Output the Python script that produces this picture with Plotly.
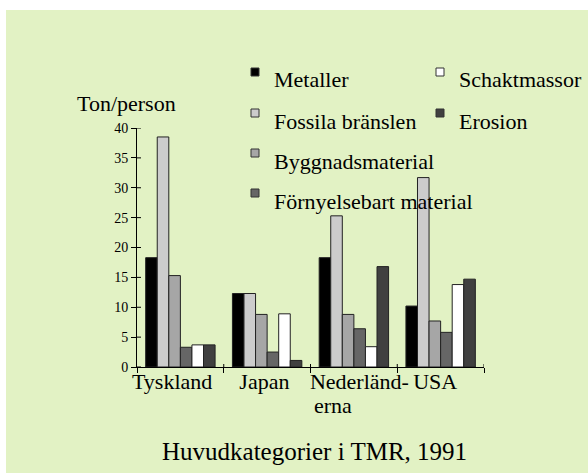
import plotly.graph_objects as go

NB = "\u00a0"
categories = ["Tyskland", "Japan", "Nederländerna", "USA"]
tick_labels = ["Tyskland" + NB * 3, "Japan" + NB, NB * 2 + "Nederländ-", "USA" + NB * 2]
tick_label_wrap = "erna"
series_names = ["Metaller", "Fossila bränslen", "Byggnadsmaterial",
                "Förnyelsebart material", "Schaktmassor", "Erosion"]
metaller = [18.3, 12.3, 18.3, 10.2]
fossila = [38.5, 12.3, 25.3, 31.7]
bygg = [15.3, 8.8, 8.8, 7.7]
fornyelsebart = [3.3, 2.5, 6.4, 5.8]
schakt = [3.7, 8.9, 3.4, 13.8]
erosion = [3.7, 1.1, 16.8, 14.7]
series_values = [metaller, fossila, bygg, fornyelsebart, schakt, erosion]
colors = ["#000000", "#cccccc", "#a6a6a6", "#666666", "#ffffff", "#404040"]
y_ticks = [0, 5, 10, 15, 20, 25, 30, 35, 40]

W, H = 588, 473
PX0, PX1, PY0, PY1 = 137, 484, 128, 367  # plot area in pixels
pw, ph = PX1 - PX0, PY1 - PY0
def px(x): return (x - PX0) / pw
def py(y): return (PY1 - y) / ph

FONT = "Liberation Serif, Times New Roman, serif"
fig = go.Figure()
for name, vals, col in zip(series_names, series_values, colors):
    fig.add_trace(go.Bar(x=categories, y=vals, name=name, marker_color=col,
                         marker_line=dict(color="#222222", width=1), showlegend=False))

shapes = [dict(type="rect", xref="paper", yref="paper", x0=px(6), x1=px(W + 5),
               y0=py(H + 5), y1=py(10), fillcolor="#e2f2c4", line_width=0, layer="below")]
# inner halves of the crossing ticks
for v in y_ticks:
    shapes.append(dict(type="line", xref="paper", yref="y", x0=0, x1=4 / pw, y0=v, y1=v,
                       line=dict(color="#000000", width=1)))
for i in range(len(categories)):
    shapes.append(dict(type="line", xref="x", yref="paper", x0=i + 0.5, x1=i + 0.5,
                       y0=0, y1=3 / ph, line=dict(color="#000000", width=1)))

annotations = [
    dict(text="Ton/person", xref="paper", yref="paper", x=px(126), y=py(103),
         xanchor="center", yanchor="middle",
         showarrow=False, font=dict(size=22, family=FONT, color="#000")),
    dict(text="Huvudkategorier i TMR, 1991", xref="paper", yref="paper", x=px(314), y=py(451),
         xanchor="center", yanchor="middle",
         showarrow=False, font=dict(size=25, family=FONT, color="#000")),
    dict(text=tick_label_wrap, xref="paper", yref="paper", x=px(312), y=py(405),
         xanchor="left", yanchor="middle",
         showarrow=False, font=dict(size=22, family=FONT, color="#000")),
]
# legend, two columns
legend_pos = [(251, 272, 80), (251, 272, 121), (251, 272, 161), (251, 272, 201),
              (436, 457, 80), (436, 457, 121)]
for name, col, (mx, tx, ty) in zip(series_names, colors, legend_pos):
    shapes.append(dict(type="rect", xref="paper", yref="paper", x0=px(mx), x1=px(mx + 8),
                       y0=py(ty - 4), y1=py(ty - 12), fillcolor=col,
                       line=dict(color="#333333", width=1)))
    annotations.append(dict(text=name, xref="paper", yref="paper", x=px(tx), y=py(ty),
                            xanchor="left", yanchor="middle", showarrow=False,
                            font=dict(size=22, family=FONT, color="#000")))

fig.update_layout(
    width=W, height=H, margin=dict(l=PX0, r=W - PX1, t=PY0, b=H - PY1),
    paper_bgcolor="#ffffff", plot_bgcolor="rgba(0,0,0,0)",
    barmode="group", bargap=0.2, bargroupgap=0,
    shapes=shapes, annotations=annotations,
    font=dict(family=FONT, color="#000"),
)
fig.update_xaxes(tickvals=categories, ticktext=tick_labels, tickson="boundaries", tickangle=0,
                 ticks="outside", ticklen=5, tickcolor="#000", showline=True, linecolor="#000",
                 ticklabelstandoff=-5,
                 linewidth=1, showgrid=False, tickfont=dict(size=22, family=FONT, color="#000"),
                 range=[-0.5, 3.5])
fig.update_yaxes(range=[0, 40], tickvals=y_ticks, ticks="outside", ticklen=5, tickcolor="#000",
                 showline=True, linecolor="#000", linewidth=1, showgrid=False, zeroline=False,
                 tickfont=dict(size=14, family=FONT, color="#000"))
fig.write_html("out.html", config={"displayModeBar": False},
               post_script="document.body.style.margin='0';document.body.style.overflow='hidden';")
